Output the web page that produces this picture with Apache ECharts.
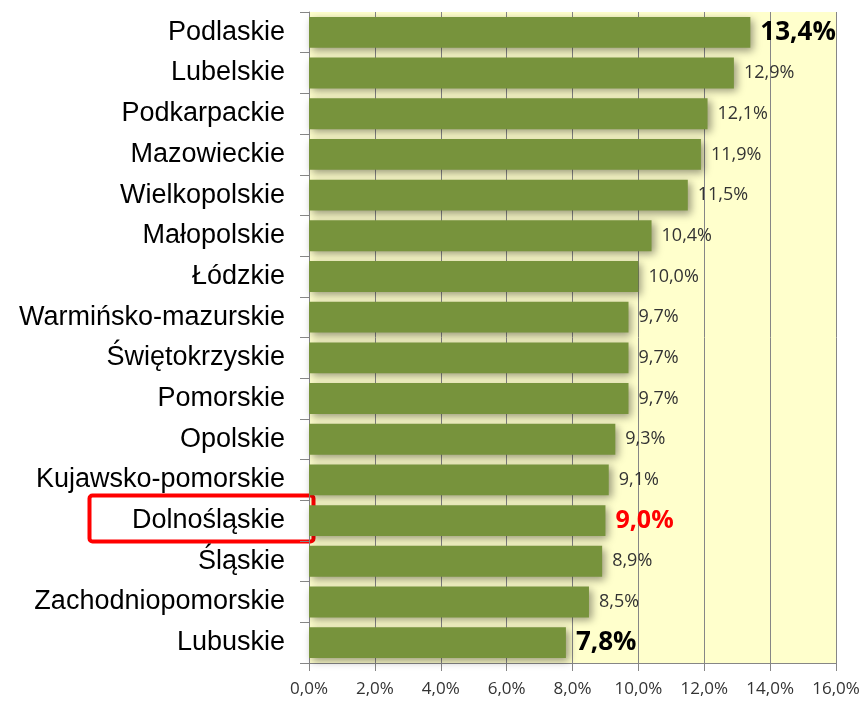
<!DOCTYPE html>
<html>
<head>
<meta charset="utf-8">
<script src="https://cdn.jsdelivr.net/npm/echarts@6/dist/echarts.min.js"></script>
<style>
html,body{margin:0;padding:0;background:#fff;}
#chart{width:868px;height:707px;}
</style>
</head>
<body>
<div id="chart"></div>
<script>
var regions = ['Podlaskie','Lubelskie','Podkarpackie','Mazowieckie','Wielkopolskie','Małopolskie','Łódzkie',
	'Warmińsko-mazurskie','Świętokrzyskie','Pomorskie','Opolskie','Kujawsko-pomorskie','Dolnośląskie',
	'Śląskie','Zachodniopomorskie','Lubuskie'];
var values = [13.4,12.9,12.1,11.9,11.5,10.4,10.0,9.7,9.7,9.7,9.3,9.1,9.0,8.9,8.5,7.8];
var xTicks = [0,2,4,6,8,10,12,14,16];

function pct(v){
	return v.toFixed(1).replace('.',',')+'%';
}

// special label styles: biggest, smallest and highlighted region
var labelRich = {
	big:{fontFamily:'Open Sans',fontSize:26,fontWeight:'bold',color:'#000'},
	red:{fontFamily:'Open Sans',fontSize:25,fontWeight:'bold',color:'#ff0000'},
	norm:{fontFamily:'Open Sans',fontSize:18,color:'#333'}
};

var barData = values.map(function(v,i){
	var st = 'norm';
	if(regions[i]=='Podlaskie' || regions[i]=='Lubuskie') st = 'big';
	if(regions[i]=='Dolnośląskie') st = 'red';
	return {value:v,label:{formatter:'{'+st+'|'+pct(v)+'}'}};
});

var myChart = echarts.init(document.getElementById('chart'),null,{renderer:'canvas'});
var option = {
	animation:false,
	grid:{left:309,right:32,top:12,bottom:44,show:true,backgroundColor:'#ffffcc',borderWidth:0},
	xAxis:{
		type:'value',min:0,max:16,interval:2,
		axisLine:{show:true,lineStyle:{color:'#868686'}},
		axisTick:{show:true,length:8,lineStyle:{color:'#868686'}},
		splitLine:{show:true,lineStyle:{color:'#868686',width:1}},
		axisLabel:{
			margin:18,fontFamily:'Open Sans',fontSize:17,color:'#333',
			formatter:function(v){ return xTicks.indexOf(v)>=0 ? pct(v) : ''; }
		}
	},
	yAxis:{
		type:'category',data:regions,inverse:true,
		axisLine:{show:true,lineStyle:{color:'#868686'}},
		axisTick:{show:true,length:9,lineStyle:{color:'#868686'}},
		axisLabel:{margin:24,fontFamily:'Liberation Sans',fontSize:27,color:'#000'}
	},
	series:[{
		type:'bar',data:barData,barWidth:'76%',
		itemStyle:{
			color:'#77933c',
			shadowColor:'rgba(0,0,0,0.4)',shadowBlur:8,shadowOffsetX:3,shadowOffsetY:3
		},
		label:{show:true,position:'right',distance:10,rich:labelRich}
	}],
	graphic:[{
		type:'rect',left:87,top:493,
		shape:{width:224,height:46,r:3},
		style:{fill:'none',stroke:'#ff0000',lineWidth:4}
	}]
};
myChart.setOption(option);
</script>
</body>
</html>
